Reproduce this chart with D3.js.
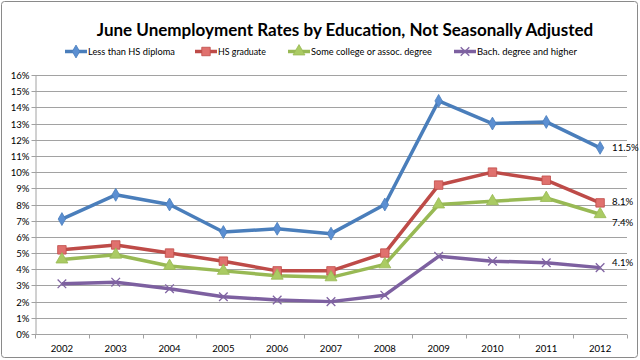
<!DOCTYPE html>
<html><head><meta charset="utf-8">
<script src="https://cdn.jsdelivr.net/npm/d3@7"></script>
<style>
html,body{margin:0;padding:0;background:#fff;}
svg{display:block;font-family:Lato, "Open Sans", sans-serif;}
</style></head>
<body>
<svg id="chart" width="640" height="360"></svg>
<script>
const years = ["2002","2003","2004","2005","2006","2007","2008","2009","2010","2011","2012"];
const seriesNames = ["Less than HS diploma","HS graduate","Some college or assoc. degree","Bach. degree and higher"];
const lessThanHS = [7.1, 8.6, 8.0, 6.3, 6.5, 6.2, 8.0, 14.4, 13.0, 13.1, 11.5];
const hsGraduate = [5.2, 5.5, 5.0, 4.5, 3.9, 3.9, 5.0, 9.2, 10.0, 9.5, 8.1];
const someCollege = [4.6, 4.9, 4.2, 3.9, 3.6, 3.5, 4.3, 8.0, 8.2, 8.4, 7.4];
const bachelor = [3.1, 3.2, 2.8, 2.3, 2.1, 2.0, 2.4, 4.8, 4.5, 4.4, 4.1];
const yTicks = [0,1,2,3,4,5,6,7,8,9,10,11,12,13,14,15,16];
const endLabels = ["11.5%","8.1%","7.4%","4.1%"];
const title = "June Unemployment Rates by Education, Not Seasonally Adjusted";

const colors = ["#4A7EBB","#BE4B48","#98B954","#7D60A0"];
const fills  = ["#5B8FD2","#E0716E","#AACB63","#8064A2"];
const symbols = [d3.symbolDiamond, d3.symbolSquare, d3.symbolTriangle, d3.symbolTimes];
const symSizes = [48, 72, 62, 50];
const allSeries = [lessThanHS, hsGraduate, someCollege, bachelor];

const svg = d3.select("#chart");
svg.append("rect").attr("x",1.5).attr("y",1.5).attr("width",636).attr("height",356)
  .attr("rx",3).attr("fill","#fff").attr("stroke","#8a8a8a").attr("stroke-width",1);

const pLeft = 35, pRight = 627, pTop = 75, pBottom = 334;
const gridColor = "#a2a2a2";
const x = d3.scaleBand().domain(years).range([pLeft, pRight]).padding(0);
const y = d3.scaleLinear().domain([0,16]).range([pBottom, pTop]);
const cx = d => x(d) + x.bandwidth()/2;

svg.append("g").selectAll("line").data(yTicks.filter(t=>t>0)).join("line")
  .attr("x1",pLeft).attr("x2",pRight)
  .attr("y1",d=>Math.round(y(d))+0.5).attr("y2",d=>Math.round(y(d))+0.5)
  .attr("stroke",gridColor).attr("stroke-width",1);

const yAxis = svg.append("g").attr("transform",`translate(${pLeft+0.5},0)`)
  .call(d3.axisLeft(y).tickValues(yTicks).tickFormat(d=>d+"%").tickSize(4).tickSizeOuter(0));
yAxis.select(".domain").attr("stroke",gridColor);
yAxis.selectAll(".tick line").attr("stroke",gridColor);
yAxis.selectAll(".tick").attr("transform", d=>`translate(0,${Math.round(y(d))+0.5})`);
yAxis.selectAll("text").attr("font-family","Lato").attr("font-size",9.6).attr("fill","#000").attr("x",-6);

const xg = svg.append("g").attr("transform",`translate(0,${pBottom+0.5})`);
xg.append("line").attr("x1",pLeft).attr("x2",pRight).attr("stroke",gridColor);
const bounds = years.map(d=>x(d)).concat([pRight]);
xg.selectAll("line.tk").data(bounds).join("line").attr("class","tk")
  .attr("x1",d=>Math.round(d)+0.5).attr("x2",d=>Math.round(d)+0.5).attr("y1",0).attr("y2",4)
  .attr("stroke",gridColor);
xg.selectAll("text").data(years).join("text")
  .attr("x",d=>cx(d)).attr("y",17).attr("text-anchor","middle")
  .attr("font-size",9.6).attr("fill","#000").text(d=>d);

const line = d3.line().x((d,i)=>cx(years[i])).y(d=>y(d));
allSeries.forEach((s,k)=>{
  svg.append("path").datum(s).attr("d",line).attr("fill","none")
    .attr("stroke",colors[k]).attr("stroke-width",3.5).attr("stroke-linejoin","round");
});
function drawMarker(g, k, px, py){
  const p = d3.symbol().type(symbols[k]).size(symSizes[k])();
  const m = g.append("path").attr("d",p).attr("transform",`translate(${px},${py})`);
  if(k===3){ m.attr("fill","none").attr("stroke",fills[k]).attr("stroke-width",1.3); }
  else { m.attr("fill",fills[k]).attr("stroke",colors[k]).attr("stroke-width",0.8); }
}
allSeries.forEach((s,k)=>{
  const g = svg.append("g");
  s.forEach((v,i)=>drawMarker(g,k,cx(years[i]),y(v)));
});

svg.append("g").selectAll("text").data(endLabels).join("text")
  .attr("x", cx(years[years.length-1]) + 12)
  .attr("y", (d,k)=> y(allSeries[k][allSeries[k].length-1]) + [0,-1,8,-5][k] + 3.5)
  .attr("font-size",9.6).attr("fill","#000").text(d=>d);

const t = svg.append("text").attr("x",345).attr("y",36).attr("text-anchor","middle")
  .attr("font-weight","bold").attr("font-size",19).attr("fill","#000").text(title);
const tw = t.node().getComputedTextLength();
t.attr("font-size", 19*497/tw);

const legX = [65,195,288,454];
const legW = [87,48,121,100];
const lg = svg.append("g");
seriesNames.forEach((n,k)=>{
  const ly = 51.5;
  lg.append("line").attr("x1",legX[k]).attr("x2",legX[k]+22).attr("y1",ly).attr("y2",ly)
    .attr("stroke",colors[k]).attr("stroke-width",3.5);
  drawMarker(lg,k,legX[k]+11,ly);
  const tx = lg.append("text").attr("x",legX[k]+23).attr("y",ly+3.5)
    .attr("font-size",10).attr("fill","#000").text(n);
  const w = tx.node().getComputedTextLength();
  tx.attr("font-size", 10*legW[k]/w);
});
</script>
</body></html>
